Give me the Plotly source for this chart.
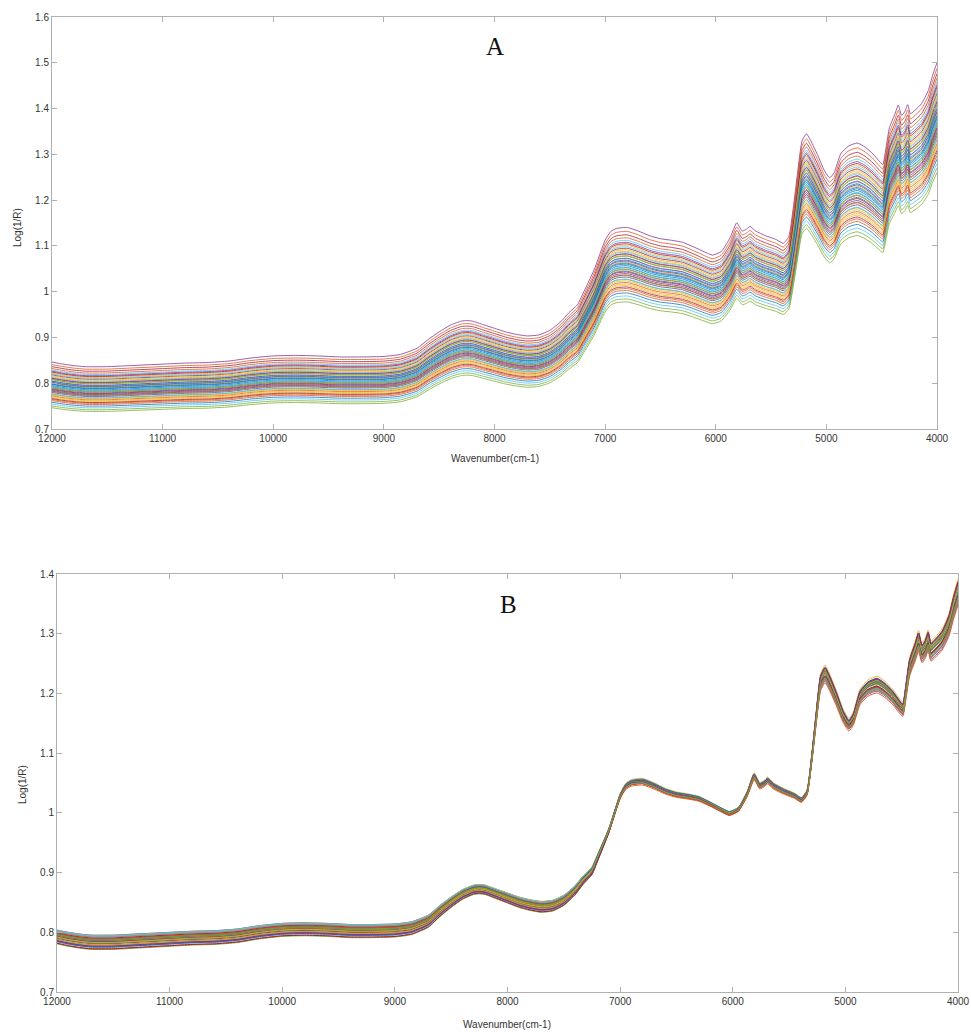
import plotly.graph_objects as go

# ---------------- data ----------------
wavenumber = [12000, 11900, 11800, 11700, 11500, 11300, 11000, 10800, 10600, 10400,
              10200, 10000, 9800, 9600, 9400, 9200, 9000, 8850, 8700, 8600,
              8500, 8400, 8300, 8250, 8200, 8100, 8000, 7900, 7800, 7700,
              7600, 7500, 7400, 7330, 7250, 7200, 7100, 7000, 6950, 6900,
              6800, 6700, 6600, 6500, 6400, 6300, 6200, 6100, 6030, 5950,
              5870, 5810, 5760, 5720, 5690, 5640, 5550, 5450, 5390, 5340,
              5300, 5260, 5220, 5180, 5140, 5080, 5020, 4970, 4930, 4870,
              4800, 4720, 4650, 4580, 4520, 4490, 4460, 4430, 4380, 4350,
              4320, 4290, 4265, 4240, 4200, 4140, 4080, 4040, 4000]

mean_spectrum = [0.790, 0.786, 0.783, 0.781, 0.781, 0.783, 0.786, 0.788, 0.789, 0.792,
                 0.798, 0.802, 0.803, 0.802, 0.800, 0.800, 0.801, 0.805, 0.817, 0.834,
                 0.849, 0.862, 0.870, 0.871, 0.870, 0.863, 0.856, 0.849, 0.844, 0.841,
                 0.843, 0.852, 0.869, 0.886, 0.902, 0.924, 0.970, 1.028, 1.045, 1.051,
                 1.053, 1.046, 1.037, 1.031, 1.028, 1.024, 1.015, 1.005, 0.999, 1.006,
                 1.033, 1.062, 1.046, 1.050, 1.055, 1.046, 1.037, 1.029, 1.022, 1.035,
                 1.090, 1.160, 1.222, 1.236, 1.222, 1.195, 1.165, 1.150, 1.160, 1.197,
                 1.212, 1.218, 1.210, 1.197, 1.182, 1.176, 1.210, 1.248, 1.275, 1.292,
                 1.272, 1.280, 1.293, 1.275, 1.282, 1.295, 1.320, 1.350, 1.375]

# Panel A (raw spectra): per-sample additive offset and multiplicative scale
raw_offset = [0.008, 0.036, -0.016, 0.023, -0.002, 0.045, -0.028, 0.016, 0.029, -0.009,
              0.003, 0.052, -0.022, 0.020, 0.011, -0.005, 0.032, -0.037, 0.025, 0.000,
              -0.012, 0.041, 0.014, 0.005, -0.019, 0.021, -0.008, 0.034, 0.008, -0.033,
              0.027, -0.001, 0.048, -0.014, 0.016, 0.006, -0.025, 0.031, -0.006, 0.013,
              0.024, -0.017, 0.002, 0.039, -0.010, 0.018, -0.003, 0.010]
raw_scale = [0.999, 0.922, 1.061, 0.958, 1.025, 0.898, 1.094, 0.977, 0.941, 1.042,
             1.010, 0.879, 1.077, 0.965, 0.989, 1.032, 0.932, 1.118, 0.951, 1.018,
             1.051, 0.908, 0.982, 1.006, 1.070, 0.963, 1.039, 0.927, 0.996, 1.106,
             0.946, 1.020, 0.889, 1.056, 0.975, 1.003, 1.085, 0.936, 1.034, 0.984,
             0.953, 1.065, 1.013, 0.915, 1.046, 0.970, 1.027, 0.991]

# Panel B (corrected spectra): small residual shift and tilt per sample
msc_shift = [0.002, -0.001, 0.003, -0.002, 0.000, 0.001, -0.003, 0.002, -0.001, 0.001,
             0.000, -0.002, 0.003, -0.001, 0.002, -0.003, 0.001, 0.000, -0.002, 0.002,
             0.001, -0.001, 0.000, 0.003, -0.002, 0.001, -0.001, 0.002, 0.000, -0.003,
             0.001, -0.002, 0.002, 0.000, -0.001, 0.003, -0.002, 0.001, 0.000, -0.001]
msc_tilt = [0.005, -0.045, 0.035, -0.025, 0.015, -0.055, -0.015, 0.025, -0.035, -0.005,
            -0.065, 0.015, -0.025, 0.005, -0.045, 0.025, -0.015, -0.035, 0.035, -0.055,
            -0.005, 0.015, -0.025, -0.045, 0.005, -0.015, 0.025, -0.035, -0.005, -0.065,
            0.015, -0.025, 0.005, -0.055, 0.035, -0.015, -0.045, -0.005, 0.025, -0.035]

x_ticks = [12000, 11000, 10000, 9000, 8000, 7000, 6000, 5000, 4000]
x_tick_text = ["12000", "11000", "10000", "9000", "8000", "7000", "6000", "5000", "4000"]
yA_ticks = [0.7, 0.8, 0.9, 1.0, 1.1, 1.2, 1.3, 1.4, 1.5, 1.6]
yA_text = ["0.7", "0.8", "0.9", "1", "1.1", "1.2", "1.3", "1.4", "1.5", "1.6"]
yB_ticks = [0.7, 0.8, 0.9, 1.0, 1.1, 1.2, 1.3, 1.4]
yB_text = ["0.7", "0.8", "0.9", "1", "1.1", "1.2", "1.3", "1.4"]

# ---------------- styling ----------------
palette = ["#0072BD", "#D95319", "#EDB120", "#7E2F8E", "#77AC30", "#4DBEEE", "#A2142F"]

fig = go.Figure()

for i, (a, b) in enumerate(zip(raw_offset, raw_scale)):
    fig.add_trace(go.Scatter(
        x=wavenumber, y=[a + b * m for m in mean_spectrum],
        mode="lines", line=dict(color=palette[i % 7], width=0.9, shape="spline", smoothing=0.5),
        opacity=0.85, showlegend=False, hoverinfo="skip", xaxis="x", yaxis="y"))

for i, (d, e) in enumerate(zip(msc_shift, msc_tilt)):
    fig.add_trace(go.Scatter(
        x=wavenumber, y=[m + d + e * (m - 1.0) for m in mean_spectrum],
        mode="lines", line=dict(color=palette[i % 7], width=1.0, shape="spline", smoothing=0.5),
        opacity=0.9, showlegend=False, hoverinfo="skip", xaxis="x2", yaxis="y2"))

W, H = 971, 1032
axis_common = dict(showgrid=False, zeroline=False, showline=True, linecolor="#b0b0b0",
                   linewidth=1, mirror="ticks", ticks="inside", ticklen=5,
                   tickcolor="#b0b0b0", tickfont=dict(family="Liberation Sans, Arial", size=10, color="#333"),
                   automargin=False)

fig.update_layout(
    width=W, height=H, margin=dict(l=0, r=0, t=0, b=0),
    paper_bgcolor="white", plot_bgcolor="white",
    xaxis=dict(domain=[52 / W, 937 / W], range=[12000, 4000], tickvals=x_ticks,
               ticktext=x_tick_text, anchor="y", **axis_common),
    yaxis=dict(domain=[1 - 429 / H, 1 - 17 / H], range=[0.7, 1.6], tickvals=yA_ticks,
               ticktext=yA_text, anchor="x", **axis_common),
    xaxis2=dict(domain=[57 / W, 958 / W], range=[12000, 4000], tickvals=x_ticks,
                ticktext=x_tick_text, anchor="y2", **axis_common),
    yaxis2=dict(domain=[1 - 992 / H, 1 - 574 / H], range=[0.7, 1.4], tickvals=yB_ticks,
                ticktext=yB_text, anchor="x2", **axis_common),
)

ann_font = dict(family="Liberation Sans, Arial", size=10, color="#333")
title_font = dict(family="Liberation Serif, Times New Roman", size=25, color="#111")


def label(text, px, py, font, angle=0):
    return dict(text=text, x=px / W, y=1 - py / H, xref="paper", yref="paper",
                xanchor="center", yanchor="middle", showarrow=False,
                textangle=angle, font=font)


annotations = [
    label("A", 495, 47, title_font),
    label("B", 509, 604, title_font),
    label("Wavenumber(cm-1)", 495, 458, ann_font),
    label("Wavenumber(cm-1)", 507, 1024, ann_font),
    label("Log(1/R)", 18, 228, ann_font, -90),
    label("Log(1/R)", 22, 785, ann_font, -90),
]
fig.update_layout(annotations=annotations)

fig.write_html("out.html")
